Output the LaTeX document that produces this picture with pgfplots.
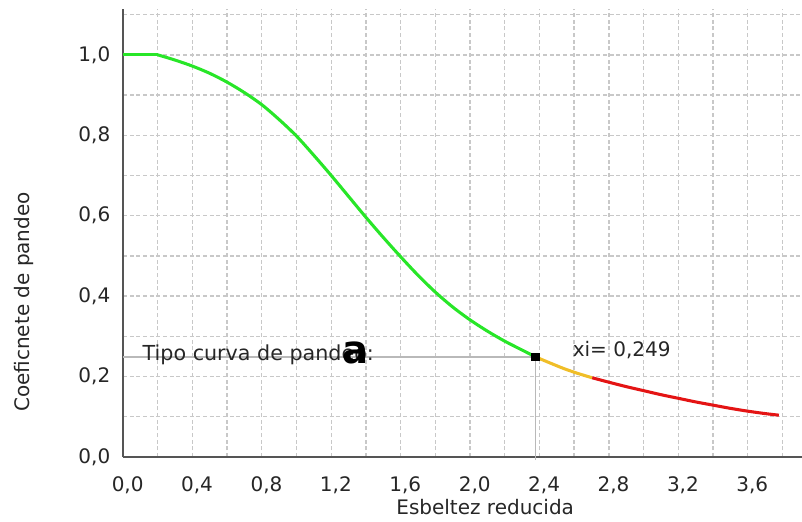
\documentclass[border=0pt]{standalone}
\usepackage{fontspec}
\setmainfont{DejaVu Sans}
\usepackage{pgfplots}
\pgfplotsset{compat=1.18}
\definecolor{gridc}{RGB}{200,200,200}
\definecolor{axc}{RGB}{85,85,85}
\definecolor{cgreen}{RGB}{40,230,40}
\definecolor{cyellow}{RGB}{240,190,40}
\definecolor{cred}{RGB}{228,20,20}
\definecolor{refc}{RGB}{185,185,185}
\begin{document}
\begin{tikzpicture}
\path[use as bounding box] (0pt,0pt) rectangle (601.5pt,390.75pt);
\begin{axis}[
  at={(92.25pt,48pt)}, anchor=south west,
  scale only axis, width=509.6pt, height=336pt,
  xmin=0, xmax=3.916, ymin=0, ymax=1.114,
  axis x line=bottom, axis y line=left,
  axis line style={-, draw=axc, line width=1.4pt},
  xtick={0,0.4,...,3.7}, minor xtick={0.2,0.6,...,3.9},
  ytick={0,0.2,...,1.05}, minor ytick={0.1,0.3,...,1.15},
  major tick length=0pt, minor tick length=0pt,
  grid=both,
  major grid style={draw=gridc, line width=1pt, dash pattern=on 3pt off 2pt},
  minor grid style={draw=gridc, line width=1pt, dash pattern=on 3pt off 2pt},
  /pgf/number format/assume math mode=true,
  /pgf/number format/use comma, /pgf/number format/fixed,
  /pgf/number format/fixed zerofill, /pgf/number format/precision=1,
  tick label style={font=\fontsize{15}{18}\selectfont, text=black!85},
  xticklabel style={yshift=-11pt, xshift=3.5pt},
  yticklabel style={xshift=-6pt},
  xlabel={Esbeltez reducida},
  ylabel={Coeficnete de pandeo},
  label style={font=\fontsize{15}{18}\selectfont, text=black!85},
  xlabel style={at={(rel axis cs:0.533,-0.1116)}, anchor=center},
  ylabel style={at={(rel axis cs:-0.1457,0.346)}, anchor=center, rotate=0},
  clip=false,
]
% reference lines
\addplot[refc, line width=1.1pt] coordinates {(0,0.249) (2.377,0.249)};
\addplot[refc, line width=1.1pt] coordinates {(2.377,-0.008) (2.377,0.249)};
% curve
\addplot[cgreen, line width=2.3pt] coordinates {(0,1.0) (0.2,1.0)};
\addplot[cgreen, line width=2.3pt, smooth] coordinates {
(0.2,1.0) (0.3,0.987) (0.4,0.972) (0.5,0.954) (0.6,0.932) (0.7,0.906)
(0.8,0.876) (0.9,0.839) (1.0,0.798) (1.1,0.750) (1.2,0.700) (1.3,0.648)
(1.4,0.596) (1.5,0.546) (1.6,0.498) (1.7,0.452) (1.8,0.410) (1.9,0.373)
(2.0,0.341) (2.1,0.313) (2.2,0.288) (2.3,0.266) (2.377,0.249)};
\addplot[cyellow, line width=2.3pt, smooth] coordinates {
(2.377,0.249) (2.46,0.234) (2.54,0.220) (2.62,0.208) (2.704,0.197)};
\addplot[cred, line width=2.3pt, smooth] coordinates {
(2.704,0.197) (2.8,0.186) (2.9,0.175) (3.0,0.165) (3.1,0.155) (3.2,0.146)
(3.3,0.137) (3.4,0.129) (3.5,0.121) (3.6,0.114) (3.7,0.108) (3.78,0.104)};
\addplot[only marks, mark=square*, mark size=2.8pt, black] coordinates {(2.377,0.249)};
% texts
\node[anchor=base west, inner sep=0pt, font=\fontsize{15.5}{18}\selectfont, text=black!85] at (axis cs:0.112,0.241) {Tipo curva de pandeo:};
\node[anchor=base, inner sep=0pt, font=\fontsize{29}{32}\bfseries] at (axis cs:1.34,0.233) {a};
\node[anchor=base west, inner sep=0pt, font=\fontsize{15}{18}\selectfont, text=black!85] at (axis cs:2.591,0.249) {xi= 0,249};
\end{axis}
\end{tikzpicture}
\end{document}
